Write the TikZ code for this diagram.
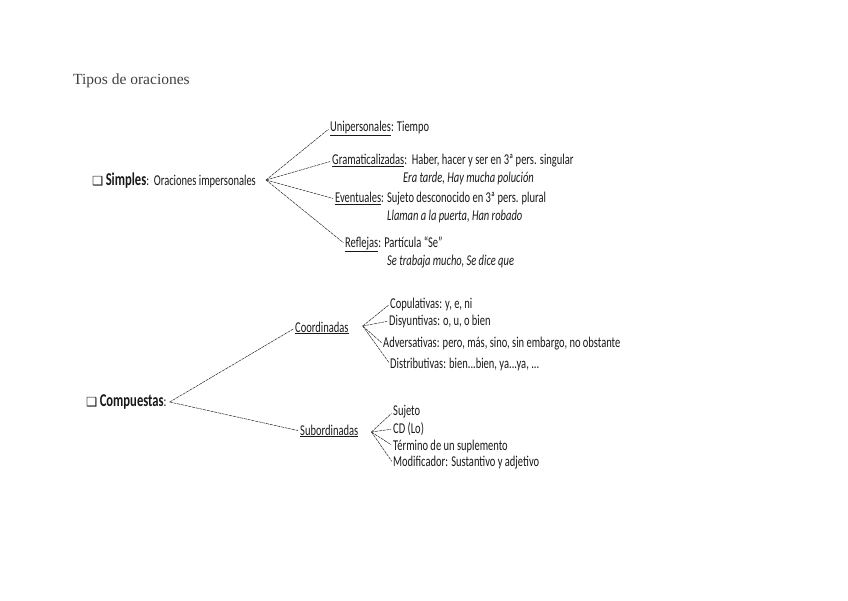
\documentclass[tikz,border=0pt]{standalone}
\usepackage{fontspec}
\setsansfont{Carlito}[FakeStretch=0.7]
\newfontfamily\titlefont{Liberation Serif}
\newfontfamily\boxfont{DejaVu Sans}

\tikzset{
  lbl/.style={anchor=west, inner sep=0pt, text=black!90,
    font=\sffamily\fontsize{15}{17}\selectfont},
  ejemplo/.style={lbl, font=\sffamily\itshape\fontsize{15}{17}\selectfont},
  rama/.style={dash pattern=on 3pt off 0.8pt, line width=0.5pt, black!85, shorten >=2pt}
}
\newcommand{\casilla}{{\boxfont\fontsize{12.5}{14}\selectfont ❑}}

\begin{document}
\begin{tikzpicture}[x=1pt,y=-1pt]
        \useasboundingbox (0,0) rectangle (848,600);

        % TITLE
        \node[anchor=west, inner sep=0pt, text=black!75,
              font=\titlefont\fontsize{15.5}{18}\selectfont] (titulo) at (73,81) {Tipos de oraciones};

        % SIMPLES
        \node[lbl] (simples) at (92,181)
          {\casilla\ \textbf{\fontsize{18}{20}\selectfont Simples}:\ \ Oraciones impersonales};
        \node[lbl] (uni)   at (330,128) {\underline{Unipersonales}: Tiempo};
        \node[lbl] (gram)  at (332,161) {\underline{Gramaticalizadas}:\ \ Haber, hacer y ser en 3ª pers. singular};
        \node[ejemplo] (gramej) at (403,178) {Era tarde, Hay mucha polución};
        \node[lbl] (even)  at (335,199) {\underline{Eventuales}: Sujeto desconocido en 3ª pers. plural};
        \node[ejemplo] (evenej) at (387,216) {Llaman a la puerta, Han robado};
        \node[lbl] (refl)  at (345,244) {\underline{Reflejas}: Partícula ``Se''};
        \node[ejemplo] (reflej) at (387,262) {Se trabaja mucho, Se dice que};

        % COMPUESTAS
        \node[lbl] (compuestas) at (86,402)
          {\casilla\ \textbf{\fontsize{18}{20}\selectfont Compuestas}:};
        \node[lbl] (coord)  at (295,328) {\underline{Coordinadas}};
        \node[lbl] (subord) at (300,431) {\underline{Subordinadas}};

        % coordinadas
        \node[lbl] (cop)   at (390,304) {Copulativas: y, e, ni};
        \node[lbl] (dis)   at (389,321) {Disyuntivas: o, u, o bien};
        \node[lbl] (adv)   at (383,344) {Adversativas: pero, más, sino, sin embargo, no obstante};
        \node[lbl] (distr) at (390,364) {Distributivas: bien...bien, ya...ya, ...};

        % subordinadas
        \node[lbl] (suj)   at (393,412) {Sujeto};
        \node[lbl] (cd)    at (393,429) {CD (Lo)};
        \node[lbl] (term)  at (393,446) {Término de un suplemento};
        \node[lbl] (modif) at (393,463) {Modificador: Sustantivo y adjetivo};

        % BRANCHES
        \foreach \n in {uni,gram,even,refl}
          \draw[rama] ([xshift=10pt,yshift=1pt]simples.east) -- (\n.west);
        \foreach \n in {coord,subord}
          \draw[rama] ([xshift=3pt]compuestas.east) -- (\n.west);
        \foreach \n in {cop,dis,adv,distr}
          \draw[rama] ([xshift=14pt,yshift=2pt]coord.east) -- (\n.west);
        \foreach \n in {suj,cd,term,modif}
          \draw[rama] ([xshift=13pt,yshift=-1pt]subord.east) -- (\n.west);
      \end{tikzpicture}
\end{document}
